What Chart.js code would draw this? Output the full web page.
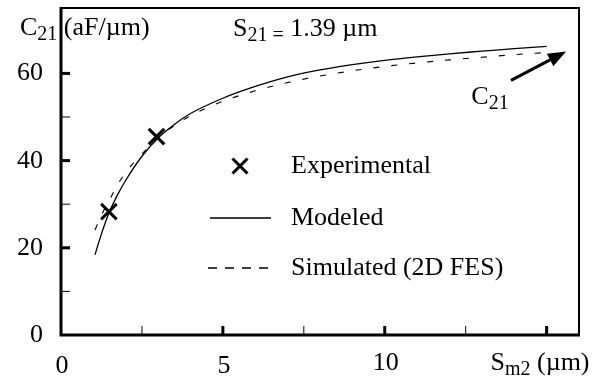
<!DOCTYPE html>
<html><head><meta charset="utf-8">
<script src="https://cdn.jsdelivr.net/npm/chart.js@4/dist/chart.umd.min.js"></script>
<style>html,body{margin:0;padding:0;background:#fff}#wrap{width:597px;height:381px}</style>
</head><body><div id="wrap"><canvas id="c" width="597" height="381"></canvas></div>
<script>
// ---- data ----
const modeledX = [1.05, 1.25, 1.5, 1.75, 2.0, 2.5, 3.0, 3.5, 4.0, 5.0, 6.0, 7.0, 8.0, 9.0, 10.0, 11.0, 12.0, 13.0, 14.0, 15.0];
const modeledY = [18.4, 23.2, 28.3, 32.2, 35.5, 41.0, 45.2, 48.3, 50.8, 54.3, 57.0, 59.2, 60.8, 62.0, 63.0, 63.8, 64.5, 65.1, 65.7, 66.2];
const simulatedX = [1.05, 1.25, 1.5, 1.75, 2.0, 2.5, 3.0, 3.5, 4.0, 5.0, 6.0, 7.0, 8.0, 9.0, 10.0, 11.0, 12.0, 13.0, 14.0, 15.0];
const simulatedY = [24.1, 27.5, 31.0, 34.5, 37.3, 41.5, 45.3, 48.0, 50.3, 53.6, 56.0, 57.9, 59.4, 60.6, 61.6, 62.4, 63.1, 63.7, 64.3, 64.8];
const experimentalX = [1.48, 2.95];
const experimentalY = [28.3, 45.5];
const xLabelValues = [0, 5, 10];
const xLabels = ['0', '5', '10'];
const xMajorTicks = [5, 10, 15];
const xMinorTicks = [2.5, 7.5, 12.5];
const yLabelValues = [0, 20, 40, 60];
const yLabels = ['0', '20', '40', '60'];
const yMajorTicks = [20, 40, 60];
const yMinorTicks = [10, 30, 50];
const seriesNames = ['Experimental', 'Modeled', 'Simulated (2D FES)'];
const arrowFrom = [13.9, 58.4];
const arrowTo = [15.6, 65.0];
const arrowLabelAt = [13.25, 53.0];

const toPts = (xs, ys) => xs.map((x, i) => ({x: x, y: ys[i]}));
const FONT = 'Liberation Serif, Times New Roman, serif';
const FS = 26;
const SUB = 20;

function txt(ctx, s, x, y, align, size) {
  ctx.font = (size || FS) + 'px ' + FONT;
  ctx.textAlign = align || 'left';
  ctx.textBaseline = 'alphabetic';
  ctx.fillText(s, x, y);
}

function subText(ctx, x, y, main, sub, rest, align) {
  ctx.font = FS + 'px ' + FONT; const w1 = ctx.measureText(main).width;
  ctx.font = SUB + 'px ' + FONT; const w2 = ctx.measureText(sub).width;
  ctx.font = FS + 'px ' + FONT; const w3 = ctx.measureText(rest).width;
  let sx = x;
  if (align === 'center') sx = x - (w1 + w2 + w3) / 2;
  txt(ctx, main, sx, y, 'left', FS);
  txt(ctx, sub, sx + w1, y + 5, 'left', SUB);
  txt(ctx, rest, sx + w1 + w2, y, 'left', FS);
}

const decor = {
  id: 'decor',
  afterDraw(chart) {
    const ctx = chart.ctx, a = chart.chartArea;
    const xs = chart.scales.x, ys = chart.scales.y;
    ctx.save();
    ctx.strokeStyle = '#000'; ctx.fillStyle = '#000';
    // frame
    ctx.lineWidth = 2;
    ctx.beginPath(); ctx.moveTo(a.left, a.top); ctx.lineTo(a.right, a.top); ctx.lineTo(a.right, a.bottom); ctx.stroke();
    ctx.lineWidth = 3;
    ctx.beginPath(); ctx.moveTo(a.left, a.top - 1); ctx.lineTo(a.left, a.bottom); ctx.lineTo(a.right + 1, a.bottom); ctx.stroke();
    // ticks
    const tl = 9;
    ctx.lineWidth = 3;
    xMajorTicks.forEach(v => { const p = xs.getPixelForValue(v); ctx.beginPath(); ctx.moveTo(p, a.bottom); ctx.lineTo(p, a.bottom - tl); ctx.stroke(); });
    yMajorTicks.forEach(v => { const p = ys.getPixelForValue(v); ctx.beginPath(); ctx.moveTo(a.left, p); ctx.lineTo(a.left + tl, p); ctx.stroke(); });
    ctx.lineWidth = 1;
    xMinorTicks.forEach(v => { const p = xs.getPixelForValue(v); ctx.beginPath(); ctx.moveTo(p, a.bottom); ctx.lineTo(p, a.bottom - tl); ctx.stroke(); });
    yMinorTicks.forEach(v => { const p = ys.getPixelForValue(v); ctx.beginPath(); ctx.moveTo(a.left, p); ctx.lineTo(a.left + tl, p); ctx.stroke(); });
    // tick labels
    yLabelValues.forEach((v, i) => txt(ctx, yLabels[i], 43, ys.getPixelForValue(v) + 7, 'right'));
    xLabelValues.forEach((v, i) => txt(ctx, xLabels[i], xs.getPixelForValue(v) + 1, v < 10 ? 373 : 370, 'center'));
    // axis titles
    subText(ctx, 20, 35, 'C', '21', ' (aF/\u00b5m)', 'left');
    subText(ctx, 540, 370, 'S', 'm2', ' (\u00b5m)', 'center');
    subText(ctx, 233, 36, 'S', '21 =', ' 1.39 \u00b5m', 'left');
    // arrow
    const x1 = xs.getPixelForValue(arrowFrom[0]), y1 = ys.getPixelForValue(arrowFrom[1]);
    const x2 = xs.getPixelForValue(arrowTo[0]), y2 = ys.getPixelForValue(arrowTo[1]);
    const ang = Math.atan2(y2 - y1, x2 - x1), hl = 18, hw = 7;
    const bx = x2 - hl * Math.cos(ang), by = y2 - hl * Math.sin(ang);
    ctx.lineWidth = 3;
    ctx.beginPath(); ctx.moveTo(x1, y1); ctx.lineTo(bx, by); ctx.stroke();
    ctx.beginPath(); ctx.moveTo(x2, y2);
    ctx.lineTo(bx + hw * Math.sin(ang), by - hw * Math.cos(ang));
    ctx.lineTo(bx - hw * Math.sin(ang), by + hw * Math.cos(ang));
    ctx.closePath(); ctx.fill();
    subText(ctx, xs.getPixelForValue(arrowLabelAt[0]), ys.getPixelForValue(arrowLabelAt[1]), 'C', '21', '', 'center');
    // legend
    ctx.lineWidth = 3;
    const mx = 240, my = 166, r = 7.5;
    ctx.beginPath(); ctx.moveTo(mx - r, my - r); ctx.lineTo(mx + r, my + r); ctx.moveTo(mx + r, my - r); ctx.lineTo(mx - r, my + r); ctx.stroke();
    ctx.lineWidth = 1.5;
    ctx.beginPath(); ctx.moveTo(210, 218); ctx.lineTo(271, 218); ctx.stroke();
    ctx.setLineDash([9, 8]);
    ctx.beginPath(); ctx.moveTo(208, 268); ctx.lineTo(272, 268); ctx.stroke();
    ctx.setLineDash([]);
    txt(ctx, seriesNames[0], 291, 173, 'left');
    txt(ctx, seriesNames[1], 291, 225, 'left');
    txt(ctx, seriesNames[2], 291, 275, 'left');
    ctx.restore();
  }
};

new Chart(document.getElementById('c'), {
  type: 'scatter',
  data: {
    datasets: [
      {label: seriesNames[1], data: toPts(modeledX, modeledY), showLine: true, borderColor: '#000', borderWidth: 1.3, pointRadius: 0, cubicInterpolationMode: 'monotone', fill: false},
      {label: seriesNames[2], data: toPts(simulatedX, simulatedY), showLine: true, borderColor: '#000', borderWidth: 1.1, borderDash: [6, 12], pointRadius: 0, cubicInterpolationMode: 'monotone', fill: false},
      {label: seriesNames[0], data: toPts(experimentalX, experimentalY), showLine: false, pointStyle: 'crossRot', pointRadius: 11, borderWidth: 3, borderColor: '#000', backgroundColor: '#000'}
    ]
  },
  options: {
    responsive: false, animation: false, devicePixelRatio: 1,
    layout: {autoPadding: false, padding: {top: 8, right: 18, left: 0, bottom: 0}},
    plugins: {legend: {display: false}, tooltip: {enabled: false}},
    scales: {
      x: {type: 'linear', min: 0, max: 16, grid: {display: false}, border: {display: false}, ticks: {display: false},
          afterFit: s => { s.height = 46; }},
      y: {type: 'linear', min: 0, max: 75, grid: {display: false}, border: {display: false}, ticks: {display: false},
          afterFit: s => { s.width = 61; }}
    }
  },
  plugins: [decor]
});
</script></body></html>
